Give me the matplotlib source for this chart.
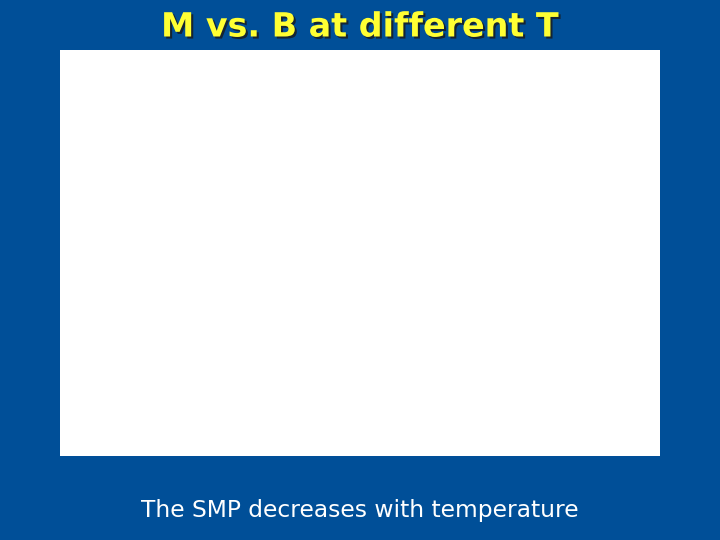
import matplotlib
matplotlib.use("Agg")
import matplotlib.pyplot as plt
import matplotlib.patheffects as pe

BG = "#004F98"
TITLE = "M vs. B at different T"
CAPTION = "The SMP decreases with temperature"

fig = plt.figure(figsize=(7.2, 5.4), dpi=100, facecolor=BG)

# empty white plot panel
ax = fig.add_axes([60/720, 84/540, 600/720, 406/540])
ax.set_facecolor("white")
ax.set_xticks([]); ax.set_yticks([])
for s in ax.spines.values():
    s.set_visible(False)

fig.text(0.5, 1 - 27/540, TITLE, ha="center", va="center", fontsize=24,
         fontweight="bold", color="#FFFF33",
         path_effects=[pe.withSimplePatchShadow(offset=(1.5, -1.5), shadow_rgbFace="#1a1a1a", alpha=0.8)])
fig.text(0.5, 1 - 511/540, CAPTION, ha="center", va="center", fontsize=16.8,
         color="white")

fig.savefig("out.png", dpi=100, facecolor=BG)
